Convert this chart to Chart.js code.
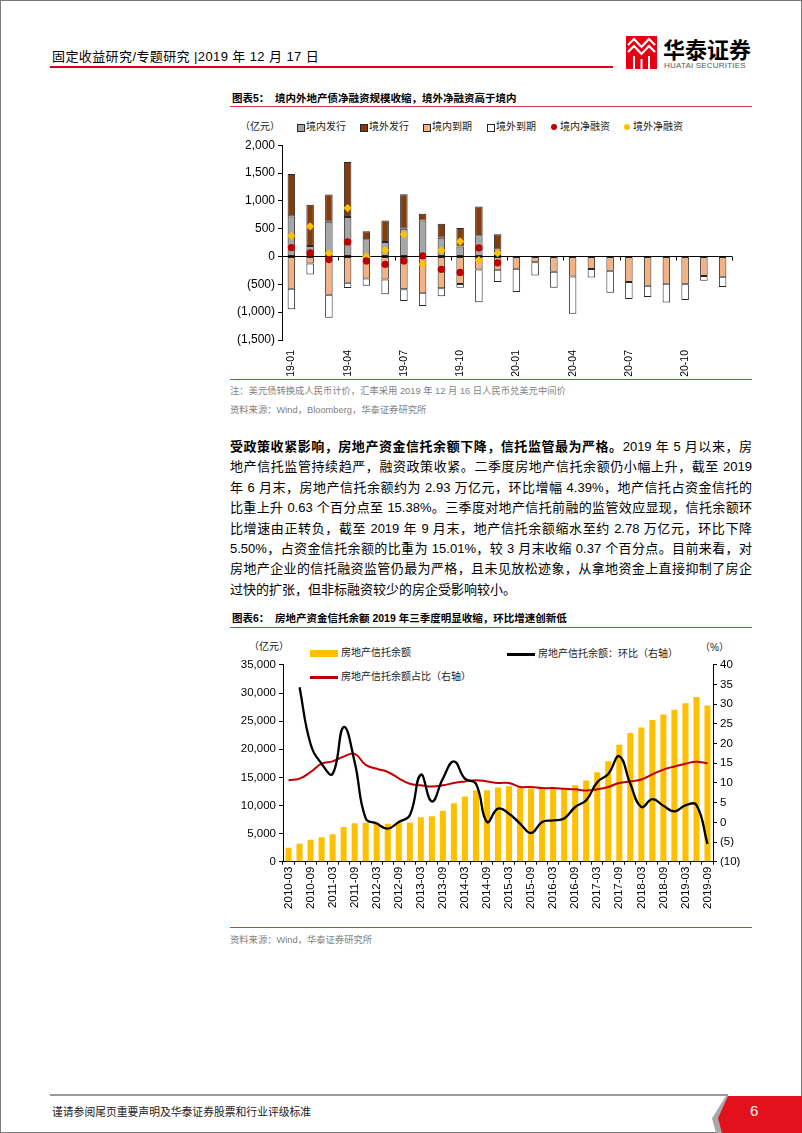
<!DOCTYPE html>
<html lang="zh-CN">
<head>
<meta charset="utf-8">
<title>固定收益研究/专题研究</title>
<script src="https://cdn.jsdelivr.net/npm/chart.js@4.4.1/dist/chart.umd.min.js"></script>
<style>
  html, body { margin: 0; padding: 0; background: #fff; }
  body { width: 802px; height: 1133px; position: relative; overflow: hidden;
         font-family: "Liberation Sans", Arial, "Noto Sans CJK SC", sans-serif; color: #000; }
  .page { position: absolute; left: 0; top: 0; width: 802px; height: 1133px;
          box-sizing: border-box; border: 1px solid #7a7a7a; }
  .abs { position: absolute; white-space: nowrap; }
  .rule { position: absolute; height: 1px; background: #e0353f; }
  .title { font-size: 10.5px; font-weight: bold; line-height: 14px; }
  .legend { font-size: 10px; line-height: 12px; color: #222; }
  .note { font-size: 9.3px; line-height: 12px; color: #7f7f7f; }
  .para { position: absolute; left: 230px; width: 522px; font-size: 13px; line-height: 20.4px;
          text-align: justify; text-align-last: justify; white-space: nowrap; }
  .para.last { text-align-last: left; }
  canvas { position: absolute; }
</style>
</head>
<body>
<div class="page"></div>

<!-- header -->
<div class="abs" style="left:52px;top:49px;font-size:13px;line-height:16px;letter-spacing:0.4px;">固定收益研究/专题研究 |2019 年 12 月 17 日</div>
<div class="abs" style="left:50px;top:66px;width:563px;height:1.5px;background:#d9001b;"></div>
<svg class="abs" style="left:626px;top:36px;" width="31" height="33" viewBox="0 0 31 33">
  <rect x="0" y="0" width="31" height="33" fill="#e60012"/>
  <polyline points="2,9 8,3 15.5,11 23,3 29,9" fill="none" stroke="#fff" stroke-width="2.2"/>
  <polyline points="2,16 8,10 15.5,18 23,10 29,16" fill="none" stroke="#fff" stroke-width="2.2"/>
  <line x1="8" y1="20" x2="8" y2="33" stroke="#fff" stroke-width="2"/>
  <line x1="15.5" y1="23" x2="15.5" y2="33" stroke="#fff" stroke-width="2"/>
  <line x1="23" y1="20" x2="23" y2="33" stroke="#fff" stroke-width="2"/>
</svg>
<div class="abs" style="left:663px;top:35px;font-size:22px;line-height:26px;font-weight:bold;font-family:'Noto Sans CJK SC',sans-serif;">华泰证券</div>
<div class="abs" style="left:664px;top:61px;font-size:8px;line-height:9px;color:#555;letter-spacing:0.2px;">HUATAI SECURITIES</div>

<!-- figure 5 -->
<div class="abs title" style="left:232px;top:91px;">图表5：</div>
<div class="abs title" style="left:275px;top:91px;">境内外地产债净融资规模收缩，境外净融资高于境内</div>
<div class="rule" style="left:230px;top:105.5px;width:522px;"></div>

<div class="abs legend" style="left:240px;top:121px;">（亿元）</div>
<div id="legend1"></div>
<canvas id="chart1" width="515" height="243" style="left:230px;top:135px;"></canvas>
<div class="rule" style="left:230px;top:378.5px;width:522px;"></div>
<div class="abs note" style="left:230px;top:385px;">注：美元债转换成人民币计价，汇率采用 2019 年 12 月 16 日人民币兑美元中间价</div>
<div class="abs note" style="left:230px;top:404px;">资料来源：Wind，Bloomberg，华泰证券研究所</div>

<!-- paragraph -->
<div class="para" style="top:437px;"><b>受政策收紧影响，房地产资金信托余额下降，信托监管最为严格。</b>2019 年 5 月以来，房</div>
<div class="para" style="top:457.4px;">地产信托监管持续趋严，融资政策收紧。二季度房地产信托余额仍小幅上升，截至 2019</div>
<div class="para" style="top:477.8px;">年 6 月末，房地产信托余额约为 2.93 万亿元，环比增幅 4.39%，地产信托占资金信托的</div>
<div class="para" style="top:498.2px;">比重上升 0.63 个百分点至 15.38%。三季度对地产信托前融的监管效应显现，信托余额环</div>
<div class="para" style="top:518.6px;">比增速由正转负，截至 2019 年 9 月末，地产信托余额缩水至约 2.78 万亿元，环比下降</div>
<div class="para" style="top:539px;">5.50%，占资金信托余额的比重为 15.01%，较 3 月末收缩 0.37 个百分点。目前来看，对</div>
<div class="para" style="top:559.4px;">房地产企业的信托融资监管仍最为严格，且未见放松迹象，从拿地资金上直接抑制了房企</div>
<div class="para last" style="top:579.8px;">过快的扩张，但非标融资较少的房企受影响较小。</div>

<!-- figure 6 -->
<div class="abs title" style="left:232px;top:611px;">图表6：</div>
<div class="abs title" style="left:275px;top:611px;">房地产资金信托余额 2019 年三季度明显收缩，环比增速创新低</div>
<div class="rule" style="left:230px;top:626.5px;width:522px;"></div>

<div class="abs legend" style="left:249px;top:641px;">（亿元）</div>
<div class="abs legend" style="left:700px;top:642px;">（%）</div>
<div id="legend2"></div>
<canvas id="chart2" width="522" height="260" style="left:230px;top:655px;"></canvas>
<div class="rule" style="left:230px;top:926.5px;width:522px;"></div>
<div class="abs note" style="left:230px;top:934px;">资料来源：Wind，华泰证券研究所</div>

<!-- footer -->
<div class="abs" style="left:50px;top:1094px;width:678px;height:2px;background:#9a9a9a;"></div>
<div class="abs" style="left:712px;top:1096px;width:90px;height:37px;background:#a8a8a8;clip-path:polygon(14px 0,100% 0,100% 100%,4px 100%,0 60%);"></div>
<div class="abs" style="left:716px;top:1096px;width:86px;height:37px;background:#e3111b;clip-path:polygon(12px 0,100% 0,100% 100%,6px 100%,2px 60%);"></div>
<div class="abs" style="left:750px;top:1102px;font-size:15px;line-height:18px;color:#fff;">6</div>
<div class="abs" style="left:52px;top:1105px;font-size:10.8px;line-height:14px;color:#222;">谨请参阅尾页重要声明及华泰证券股票和行业评级标准</div>

<script>
// ---- 图表5 data (亿元) ----
const months = ['19-01', '19-02', '19-03', '19-04', '19-05', '19-06', '19-07', '19-08', '19-09', '19-10', '19-11', '19-12',
                '20-01', '20-02', '20-03', '20-04', '20-05', '20-06', '20-07', '20-08', '20-09', '20-10', '20-11', '20-12'];
const domesticIssue = [720, 190, 625, 710, 310, 262, 500, 649, 339, 180, 381, 125,
                       null, null, null, null, null, null, null, null, null, null, null, null];
const offshoreIssue = [762, 740, 488, 990, 142, 387, 619, 119, 250, 332, 518, 274,
                       null, null, null, null, null, null, null, null, null, null, null, null];
const domesticMaturity = [-577, -125, -685, -470, -393, -411, -589, -649, -571, -495, -232, -238,
                          -220, -101, -274, -357, -226, -256, -458, -524, -488, -500, -351, -363];
const offshoreMaturity = [-369, -196, -416, -95, -131, -268, -209, -238, -143, -65, -589, -220,
                          -417, -238, -286, -673, -149, -393, -304, -202, -339, -280, -84, -185];
const domesticNet = [160, 65, -55, 262, -80, -140, -80, 10, -232, -285, 155, -113,
                     null, null, null, null, null, null, null, null, null, null, null, null];
const offshoreNet = [375, 542, 55, 870, 0, 113, 399, -137, 107, 270, -65, 60,
                     null, null, null, null, null, null, null, null, null, null, null, null];
const yTicks1 = { min: -1500, max: 2000, step: 500 };

// ---- 图表6 data ----
const quarters = ['2010-03', '2010-06', '2010-09', '2010-12', '2011-03', '2011-06', '2011-09', '2011-12',
                  '2012-03', '2012-06', '2012-09', '2012-12', '2013-03', '2013-06', '2013-09', '2013-12',
                  '2014-03', '2014-06', '2014-09', '2014-12', '2015-03', '2015-06', '2015-09', '2015-12',
                  '2016-03', '2016-06', '2016-09', '2016-12', '2017-03', '2017-06', '2017-09', '2017-12',
                  '2018-03', '2018-06', '2018-09', '2018-12', '2019-03', '2019-06', '2019-09'];
const trustBalance = [2480, 3190, 3900, 4370, 4900, 6150, 6860, 6915, 6970, 6740, 6970, 6970, 7920,
                      8100, 9040, 10400, 11580, 12700, 12700, 13180, 13420, 13180, 13000, 13120, 13120,
                      13000, 13600, 14420, 15900, 17850, 20800, 22870, 23880, 25180, 26180, 27010,
                      28190, 29300, 27800];
const trustQoQ = [null, 34.3, 19.9, 14.9, 12.3, 24.2, 15.3, 1.0, -0.3, -1.6, 0.1, 1.8, 12.1,
                  5.3, 11.1, 15.5, 11.1, 9.8, 0.1, 3.5, 2.2, -0.3, -2.7, 0.1, 0.5,
                  1.0, 3.9, 5.6, 10.2, 12.3, 16.8, 9.8, 3.9, 5.9, 4.2, 2.8,
                  4.3, 4.39, -5.5];
const trustShare = [10.7, 11.1, 12.8, 14.9, 15.5, 16.7, 17.4, 14.6, 13.6, 12.8, 11.2, 9.8, 9.4,
                    9.1, 9.4, 10.0, 10.4, 10.7, 10.4, 10.0, 10.0, 9.0, 9.0, 8.7, 8.7,
                    8.55, 8.4, 8.1, 8.4, 9.0, 10.0, 10.4, 10.9, 12.2, 13.4, 14.2,
                    14.9, 15.38, 15.01];
const yTicksLeft = { min: 0, max: 35000, step: 5000 };
const yTicksRight = { min: -10, max: 40, step: 5 };

Chart.defaults.font.family = '"Liberation Sans", Arial, sans-serif';
Chart.defaults.color = '#000';

function fmtNum(v) {
    const s = Math.abs(v).toLocaleString('en-US');
    return v < 0 ? '(' + s + ')' : s;
}

// legends in HTML, built from dataset labels
function addLegend(id, items) {
    const box = document.getElementById(id);
    items.forEach(it => {
        const sw = document.createElement('div');
        sw.className = 'abs';
        Object.assign(sw.style, it.swatch);
        box.appendChild(sw);
        const tx = document.createElement('div');
        tx.className = 'abs legend';
        tx.style.left = it.x + 'px';
        tx.style.top = it.y + 'px';
        tx.textContent = it.label;
        box.appendChild(tx);
    });
}

// small tick marks on the zero line, every 3 months
const zeroTicks = {
    id: 'zeroTicks',
    afterDatasetsDraw(chart) {
        const x = chart.scales.x, y = chart.scales.y, c = chart.ctx;
        const y0 = y.getPixelForValue(0);
        const step = x.width / months.length;
        c.save();
        c.strokeStyle = '#000';
        c.lineWidth = 1;
        c.beginPath();
        for (let i = 3; i <= months.length; i += 3) {
            const px = Math.round(x.left + i * step) + 0.5;
            c.moveTo(px, y0);
            c.lineTo(px, y0 + 4);
        }
        c.stroke();
        c.restore();
    }
};

const barBase = { borderColor: '#262626', borderWidth: 1, borderSkipped: false, stack: 'flow',
                  barPercentage: 0.8, categoryPercentage: 0.5, order: 1 };

new Chart(document.getElementById('chart1'), {
    type: 'bar',
    data: {
        labels: months,
        datasets: [
            Object.assign({ label: '境内发行', data: domesticIssue, backgroundColor: '#A6A6A6' }, barBase),
            Object.assign({ label: '境外发行', data: offshoreIssue, backgroundColor: '#843C0C' }, barBase),
            Object.assign({ label: '境内到期', data: domesticMaturity, backgroundColor: '#F4B183' }, barBase),
            Object.assign({ label: '境外到期', data: offshoreMaturity, backgroundColor: '#FFFFFF' }, barBase),
            { type: 'line', label: '境内净融资', data: domesticNet, showLine: false, stack: 'net1', order: 0,
              pointStyle: 'circle', pointRadius: 3.6, pointBackgroundColor: '#C00000', pointBorderColor: '#C00000', pointBorderWidth: 0 },
            { type: 'line', label: '境外净融资', data: offshoreNet, showLine: false, stack: 'net2', order: 0,
              pointStyle: 'rectRot', pointRadius: 4.2, pointBackgroundColor: '#FFC000', pointBorderColor: '#FFC000', pointBorderWidth: 0 }
        ]
    },
    options: {
        responsive: false,
        animation: false,
        layout: { padding: { top: 9, right: 13, left: 0, bottom: 0 } },
        plugins: { legend: { display: false }, tooltip: { enabled: false } },
        scales: {
            x: {
                stacked: true,
                grid: { display: false },
                border: { display: false },
                ticks: { autoSkip: false, minRotation: 90, maxRotation: 90, padding: 2,
                         font: { size: 10.5 }, color: '#000',
                         callback: (v, i) => (i % 3 === 0 ? months[i] : '') },
                afterFit: s => { s.height = 38; }
            },
            y: {
                stacked: true,
                min: yTicks1.min, max: yTicks1.max,
                ticks: { stepSize: yTicks1.step, callback: v => fmtNum(v), font: { size: 12 }, color: '#000', padding: 3 },
                grid: { color: c => (c.tick && c.tick.value === 0 ? '#000' : 'rgba(0,0,0,0)'),
                        tickColor: '#000', tickLength: 4, lineWidth: 1 },
                border: { color: '#000' },
                afterFit: s => { s.width = 52; }
            }
        }
    },
    plugins: [zeroTicks]
});

addLegend('legend1', [
    { label: '境内发行', x: 306, y: 121, swatch: { left: '297px', top: '123.5px', width: '6px', height: '6px', background: '#A6A6A6', border: '1px solid #262626' } },
    { label: '境外发行', x: 369, y: 121, swatch: { left: '360px', top: '123.5px', width: '6px', height: '6px', background: '#843C0C', border: '1px solid #262626' } },
    { label: '境内到期', x: 432, y: 121, swatch: { left: '423px', top: '123.5px', width: '6px', height: '6px', background: '#F4B183', border: '1px solid #262626' } },
    { label: '境外到期', x: 496, y: 121, swatch: { left: '487px', top: '123.5px', width: '6px', height: '6px', background: '#FFFFFF', border: '1px solid #262626' } },
    { label: '境内净融资', x: 560, y: 121, swatch: { left: '551px', top: '124px', width: '6px', height: '6px', background: '#C00000', borderRadius: '50%' } },
    { label: '境外净融资', x: 633, y: 121, swatch: { left: '624px', top: '124px', width: '6px', height: '6px', background: '#FFC000', borderRadius: '50%' } }
]);

new Chart(document.getElementById('chart2'), {
    data: {
        labels: quarters,
        datasets: [
            { type: 'line', label: '房地产信托余额：环比（右轴）', data: trustQoQ, yAxisID: 'y1',
              borderColor: '#000000', borderWidth: 2.3, pointRadius: 0, tension: 0.45, order: 0 },
            { type: 'line', label: '房地产信托余额占比（右轴）', data: trustShare, yAxisID: 'y1',
              borderColor: '#C00000', borderWidth: 2, pointRadius: 0, tension: 0.45, order: 1 },
            { type: 'bar', label: '房地产信托余额', data: trustBalance, yAxisID: 'y',
              backgroundColor: '#FFC000', barPercentage: 0.55, categoryPercentage: 1, order: 2 }
        ]
    },
    options: {
        responsive: false,
        animation: false,
        layout: { padding: { top: 9.3, right: 0, left: 0, bottom: 0 } },
        plugins: { legend: { display: false }, tooltip: { enabled: false } },
        scales: {
            x: {
                grid: { drawOnChartArea: false, color: '#000', tickLength: 3 },
                border: { color: '#000' },
                ticks: { autoSkip: false, minRotation: 90, maxRotation: 90, padding: 2,
                         font: { size: 11.5 }, color: '#000',
                         callback: (v, i) => (i % 2 === 0 ? quarters[i] : '') },
                afterFit: s => { s.height = 53.3; }
            },
            y: {
                position: 'left',
                min: yTicksLeft.min, max: yTicksLeft.max,
                ticks: { stepSize: yTicksLeft.step, callback: v => fmtNum(v), font: { size: 11.5 }, color: '#000', padding: 3 },
                grid: { drawOnChartArea: false, color: '#000', tickLength: 4 },
                border: { color: '#000' },
                afterFit: s => { s.width = 53; }
            },
            y1: {
                position: 'right',
                min: yTicksRight.min, max: yTicksRight.max,
                ticks: { stepSize: yTicksRight.step, callback: v => fmtNum(v), font: { size: 11.5 }, color: '#000', padding: 3 },
                grid: { drawOnChartArea: false, color: '#000', tickLength: 4 },
                border: { color: '#000' },
                afterFit: s => { s.width = 39; }
            }
        }
    }
});

addLegend('legend2', [
    { label: '房地产信托余额', x: 341, y: 647, swatch: { left: '310px', top: '649.5px', width: '28px', height: '7px', background: '#FFC000' } },
    { label: '房地产信托余额：环比（右轴）', x: 538, y: 648, swatch: { left: '507px', top: '653px', width: '28px', height: '2.5px', background: '#000000' } },
    { label: '房地产信托余额占比（右轴）', x: 341, y: 671, swatch: { left: '310px', top: '676px', width: '28px', height: '2.5px', background: '#C00000' } }
]);
</script>
</body>
</html>
